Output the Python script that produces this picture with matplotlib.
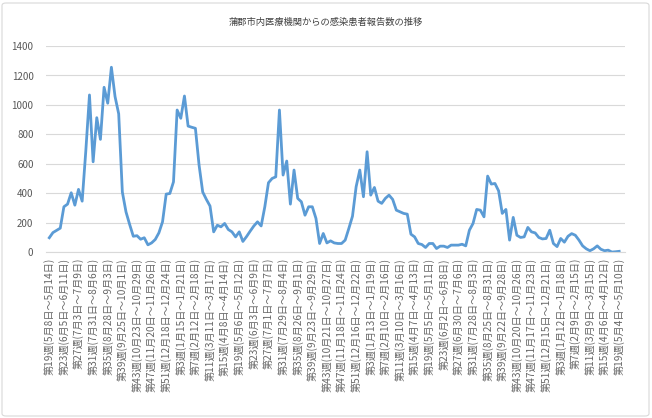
import numpy as np
import matplotlib
matplotlib.use("Agg")
import matplotlib.pyplot as plt
from matplotlib.patches import FancyBboxPatch

plt.rcParams['font.family'] = ['Noto Sans CJK JP', 'DejaVu Sans']

# weekly reports, 2023 wk19 .. 2026 wk19
reports = [
    100, 135, 150, 165, 310, 328, 405, 321, 428, 348,
    690, 1068, 615, 914, 767, 1120, 1012, 1256, 1057, 940,
    410, 275, 190, 110, 114, 90, 100, 52, 65, 88,
    133, 208, 396, 400, 479, 966, 910, 1061, 857, 849,
    842, 593, 410, 360, 315, 140, 185, 174, 197, 156,
    140, 106, 140, 75, 108, 145, 180, 208, 180, 310,
    473, 502, 513, 966, 525, 620, 328, 559, 367, 344,
    253, 310, 310, 231, 61, 129, 65, 79, 65, 61,
    61, 84, 163, 246, 446, 559, 378, 683, 389, 441,
    348, 333, 367, 389, 360, 287, 276, 265, 260, 124,
    106, 61, 54, 34, 61, 61, 27, 43, 43, 34,
    50, 50, 50, 56, 45, 151, 197, 292, 287, 242,
    518, 464, 468, 418, 265, 292, 84, 238, 117, 102,
    106, 170, 140, 133, 102, 92, 95, 151, 61, 40,
    95, 70, 110, 128, 117, 84, 45, 25, 12, 25,
    45, 22, 12, 16, 3, 5, 8,
]

# every 4th week is labelled
tick_labels = [
    "第19週(5月8日～5月14日)", "第23週(6月5日～6月11日)", "第27週(7月3日～7月9日)",
    "第31週(7月31日～8月6日)", "第35週(8月28日～9月3日)", "第39週(9月25日～10月1日)",
    "第43週(10月23日～10月29日)", "第47週(11月20日～11月26日)", "第51週(12月18日～12月24日)",
    "第3週(1月15日～1月21日)", "第7週(2月12日～2月18日)", "第11週(3月11日～3月17日)",
    "第15週(4月8日～4月14日)", "第19週(5月6日～5月12日)", "第23週(6月3日～6月9日)",
    "第27週(7月1日～7月7日)", "第31週(7月29日～8月4日)", "第35週(8月26日～9月1日)",
    "第39週(9月23日～9月29日)", "第43週(10月21日～10月27日)", "第47週(11月18日～11月24日)",
    "第51週(12月16日～12月22日)",
    "第3週(1月13日～1月19日)", "第7週(2月10日～2月16日)", "第11週(3月10日～3月16日)",
    "第15週(4月7日～4月13日)", "第19週(5月5日～5月11日)", "第23週(6月2日～6月8日)",
    "第27週(6月30日～7月6日)", "第31週(7月28日～8月3日)", "第35週(8月25日～8月31日)",
    "第39週(9月22日～9月28日)", "第43週(10月20日～10月26日)", "第47週(11月17日～11月23日)",
    "第51週(12月15日～12月21日)",
    "第3週(1月12日～1月18日)", "第7週(2月9日～2月15日)", "第11週(3月9日～3月15日)",
    "第15週(4月6日～4月12日)", "第19週(5月4日～5月10日)",
]

title = "蒲郡市内医療機関からの感染患者報告数の推移"

fig = plt.figure(figsize=(6.52, 4.18), dpi=100)
ax = fig.add_axes([46/652, 1-252.5/418, 579/652, 206.5/418])

x = np.arange(len(reports))
ax.plot(x, reports, color='#5B9BD5', lw=2.0, solid_joinstyle='round')

ax.set_ylim(0, 1400)
ax.set_yticks(range(0, 1401, 200))
ax.set_xlim(-0.9, 157.6)
ax.set_xticks(x[::4])
ax.set_xticklabels(tick_labels, rotation=90, fontsize=7.3, color='#666666')
ax.tick_params(axis='y', labelsize=7, colors='#595959', length=0, pad=9)
ax.tick_params(axis='x', length=0, pad=4)
ax.grid(axis='y', color='#D9D9D9', lw=0.8)
ax.set_axisbelow(True)
for s in ['top', 'right', 'left']:
    ax.spines[s].set_visible(False)
ax.spines['bottom'].set_color('#D9D9D9')
ax.spines['bottom'].set_linewidth(0.8)

fig.text(0.5, 1-22/418, title, ha='center', va='center', fontsize=6.7, color='#404040')

border = FancyBboxPatch((2/652, 2/418), 647/652, 413/418, boxstyle='round,pad=0,rounding_size=0.006',
                        transform=fig.transFigure, fill=False, ec='#D9D9D9', lw=0.8)
fig.patches.append(border)

plt.savefig('out.png', dpi=100)
plt.close()
